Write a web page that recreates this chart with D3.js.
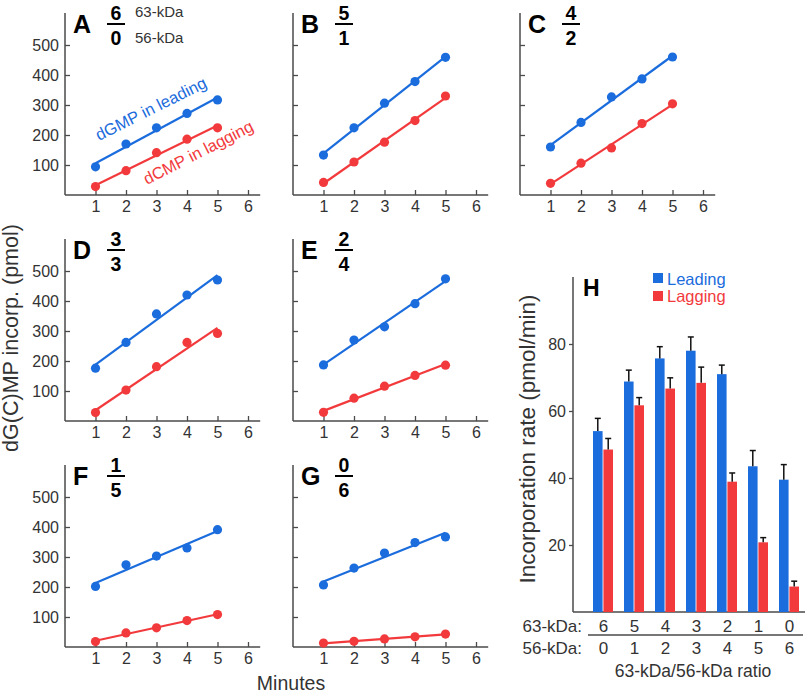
<!DOCTYPE html>
<html><head><meta charset="utf-8">
<script src="https://cdn.jsdelivr.net/npm/d3@7"></script>
<style>
body{margin:0;background:#fff;}
text{font-family:"Liberation Sans",Arial,Helvetica,sans-serif;}
</style>
</head><body>
<svg id="chart" width="805" height="693"></svg>
<script>
// ---------- data ----------
const minutes = [1, 2, 3, 4, 5];
const panelLetters = ["A", "B", "C", "D", "E", "F", "G"];
const ratio63 = [6, 5, 4, 3, 2, 1, 0];
const ratio56 = [0, 1, 2, 3, 4, 5, 6];

const leadingA = [94, 170, 224, 272, 317];
const laggingA = [28, 81, 141, 186, 224];
const leadingB = [133, 224, 306, 378, 459];
const laggingB = [42, 110, 176, 248, 330];
const leadingC = [160, 242, 327, 387, 460];
const laggingC = [39, 106, 157, 238, 304];
const leadingD = [176, 262, 357, 420, 470];
const laggingD = [28, 103, 181, 262, 292];
const leadingE = [187, 270, 314, 391, 474];
const laggingE = [29, 76, 116, 152, 186];
const leadingF = [202, 274, 303, 330, 391];
const laggingF = [18, 47, 64, 88, 108];
const leadingG = [207, 263, 313, 348, 367];
const laggingG = [13, 19, 27, 34, 43];

const yTicks = [100, 200, 300, 400, 500];
const xTicks = [1, 2, 3, 4, 5, 6];

const leadingRate = [54, 68.8, 75.7, 78, 71, 43.5, 39.5];
const leadingSD   = [3.8, 3.4, 3.5, 4.1, 2.7, 4.7, 4.5];
const laggingRate = [48.5, 61.7, 66.7, 68.4, 38.9, 20.8, 7.6];
const laggingSD   = [3.3, 2.3, 3.2, 4.7, 2.6, 1.4, 1.6];
const rateTicks = [20, 40, 60, 80];

const leadingSeries = [leadingA, leadingB, leadingC, leadingD, leadingE, leadingF, leadingG];
const laggingSeries = [laggingA, laggingB, laggingC, laggingD, laggingE, laggingF, laggingG];

// ---------- style ----------
const BLUE = "#1b6cdc";
const RED = "#f23a3d";
const AXIS = "#4a4a4a";
const TXT = "#333";
const FONT = '"Liberation Sans",Arial,sans-serif';

const svg = d3.select("#chart");

// layout of small panels
const colX = [65, 293, 520];
const rowY = [195, 421, 647];
const panelCol = [0, 1, 2, 0, 1, 0, 1];
const panelRow = [0, 0, 0, 1, 1, 2, 2];

function regress(xs, ys) {
  const n = xs.length;
  const mx = d3.mean(xs), my = d3.mean(ys);
  let sxy = 0, sxx = 0;
  for (let i = 0; i < n; i++) { sxy += (xs[i] - mx) * (ys[i] - my); sxx += (xs[i] - mx) ** 2; }
  const b = sxy / sxx;
  return x => my + b * (x - mx);
}

panelLetters.forEach((letter, i) => {
  const ox = colX[panelCol[i]], ay = rowY[panelRow[i]];
  const x = d3.scaleLinear().domain([0, 6]).range([ox, ox + 183]);
  const y = d3.scaleLinear().domain([0, 600]).range([ay, ay - 180]);
  const g = svg.append("g");

  // axes
  const yAxis = d3.axisLeft(y).tickValues(yTicks).tickFormat(d3.format("d"))
    .tickSizeInner(-5).tickSizeOuter(0).tickPadding(6);
  const ya = g.append("g").attr("transform", `translate(${ox},0)`).call(yAxis);
  ya.select(".domain").remove();
  ya.selectAll(".tick line").attr("stroke", AXIS).attr("stroke-width", 1.3);
  ya.selectAll(".tick text").attr("font-size", 16).attr("fill", TXT).style("font-family", FONT);
  if (panelCol[i] !== 0) ya.selectAll(".tick text").remove();

  const xAxis = d3.axisBottom(x).tickValues(xTicks).tickFormat(d3.format("d"))
    .tickSizeInner(-5).tickSizeOuter(0).tickPadding(6);
  const xa = g.append("g").attr("transform", `translate(0,${ay})`).call(xAxis);
  xa.select(".domain").remove();
  xa.selectAll(".tick line").attr("stroke", AXIS).attr("stroke-width", 1.3);
  xa.selectAll(".tick text").attr("font-size", 16).attr("fill", TXT).style("font-family", FONT);

  g.append("line").attr("x1", ox).attr("x2", ox).attr("y1", ay).attr("y2", y(607))
    .attr("stroke", AXIS).attr("stroke-width", 1.5);
  g.append("line").attr("x1", ox).attr("x2", x(6.4)).attr("y1", ay).attr("y2", ay)
    .attr("stroke", AXIS).attr("stroke-width", 1.5);

  // series
  [[leadingSeries[i], BLUE], [laggingSeries[i], RED]].forEach(([vals, col]) => {
    const f = regress(minutes, vals);
    g.append("line")
      .attr("x1", x(minutes[0])).attr("y1", y(f(minutes[0])))
      .attr("x2", x(minutes[minutes.length - 1])).attr("y2", y(f(minutes[minutes.length - 1])))
      .attr("stroke", col).attr("stroke-width", 2.2);
    g.selectAll(null).data(vals).enter().append("circle")
      .attr("cx", (d, j) => x(minutes[j])).attr("cy", d => y(d))
      .attr("r", 4.6).attr("fill", col);
  });

  // panel label & ratio fraction
  g.append("text").attr("x", ox + 8).attr("y", ay - 162)
    .attr("font-size", 25).attr("font-weight", "bold").attr("fill", "#000").text(letter);
  const fx = ox + 51;
  g.append("text").attr("x", fx).attr("y", ay - 175).attr("text-anchor", "middle")
    .attr("font-size", 19.5).attr("font-weight", "bold").attr("fill", "#000").text(ratio63[i]);
  g.append("line").attr("x1", fx - 9).attr("x2", fx + 9).attr("y1", ay - 171).attr("y2", ay - 171)
    .attr("stroke", "#000").attr("stroke-width", 2);
  g.append("text").attr("x", fx).attr("y", ay - 150).attr("text-anchor", "middle")
    .attr("font-size", 19.5).attr("font-weight", "bold").attr("fill", "#000").text(ratio56[i]);

  if (i === 0) {
    g.append("text").attr("x", ox + 70).attr("y", ay - 178)
      .attr("font-size", 15).attr("fill", TXT).text("63-kDa");
    g.append("text").attr("x", ox + 70).attr("y", ay - 152)
      .attr("font-size", 15).attr("fill", TXT).text("56-kDa");
    g.append("text").attr("transform", `translate(99,141) rotate(-26.5)`)
      .attr("font-size", 16.5).attr("fill", BLUE).text("dGMP in leading");
    g.append("text").attr("transform", `translate(147,185) rotate(-27)`)
      .attr("font-size", 16.5).attr("fill", RED).text("dCMP in lagging");
  }
});

// shared axis titles
svg.append("text").attr("transform", "translate(18,338) rotate(-90)")
  .attr("text-anchor", "middle").attr("font-size", 21.5).attr("fill", TXT)
  .text("dG(C)MP incorp. (pmol)");
svg.append("text").attr("x", 291).attr("y", 690).attr("text-anchor", "middle")
  .attr("font-size", 19.5).attr("fill", TXT).text("Minutes");

// ---------- panel H ----------
const hx = d3.scaleBand().domain(d3.range(ratio63.length)).range([588, 805]);
const hsub = d3.scaleBand().domain(["leading", "lagging"]).range([-10.5, 9.5]).paddingInner(0.08);
const hy = d3.scaleLinear().domain([0, 100]).range([612, 277]);
const H = svg.append("g");

const hyAxis = d3.axisLeft(hy).tickValues(rateTicks).tickSizeInner(4).tickSizeOuter(0).tickPadding(3);
const hya = H.append("g").attr("transform", "translate(573,0)").call(hyAxis);
hya.select(".domain").remove();
hya.selectAll(".tick line").attr("stroke", AXIS).attr("stroke-width", 1.3);
hya.selectAll(".tick text").attr("font-size", 16).attr("fill", TXT).style("font-family", FONT);
H.append("line").attr("x1", 573).attr("x2", 573).attr("y1", 612).attr("y2", hy(100))
  .attr("stroke", AXIS).attr("stroke-width", 1.5);
H.append("line").attr("x1", 573).attr("x2", 805).attr("y1", 612).attr("y2", 612)
  .attr("stroke", AXIS).attr("stroke-width", 1.5);

const groups = [["leading", leadingRate, leadingSD, BLUE], ["lagging", laggingRate, laggingSD, RED]];
groups.forEach(([key, vals, sds, col]) => {
  const c = i => hx(i) + hx.bandwidth() / 2 + hsub(key);
  H.selectAll(null).data(vals).enter().append("rect")
    .attr("x", (d, i) => c(i)).attr("width", hsub.bandwidth())
    .attr("y", d => hy(d)).attr("height", d => hy(0) - hy(d))
    .attr("fill", col);
  const mid = i => c(i) + hsub.bandwidth() / 2;
  H.selectAll(null).data(vals).enter().append("line")
    .attr("x1", (d, i) => mid(i)).attr("x2", (d, i) => mid(i))
    .attr("y1", d => hy(d)).attr("y2", (d, i) => hy(d + sds[i]))
    .attr("stroke", "#111").attr("stroke-width", 1.5);
  H.selectAll(null).data(vals).enter().append("line")
    .attr("x1", (d, i) => mid(i) - 3).attr("x2", (d, i) => mid(i) + 3)
    .attr("y1", (d, i) => hy(d + sds[i])).attr("y2", (d, i) => hy(d + sds[i]))
    .attr("stroke", "#111").attr("stroke-width", 1.5);
});

H.append("text").attr("x", 583).attr("y", 296).attr("font-size", 23).attr("font-weight", "bold")
  .attr("fill", "#000").text("H");

// legend
H.append("rect").attr("x", 653).attr("y", 273).attr("width", 10).attr("height", 10).attr("fill", BLUE);
H.append("text").attr("x", 667).attr("y", 285).attr("font-size", 16.5).attr("fill", BLUE).text("Leading");
H.append("rect").attr("x", 653).attr("y", 291).attr("width", 10).attr("height", 10).attr("fill", RED);
H.append("text").attr("x", 667).attr("y", 302).attr("font-size", 16.5).attr("fill", RED).text("Lagging");

// y title
H.append("text").attr("transform", "translate(535,439) rotate(-90)")
  .attr("text-anchor", "middle").attr("font-size", 22.5).attr("fill", TXT)
  .text("Incorporation rate (pmol/min)");

// ratio table
H.append("text").attr("x", 582).attr("y", 632).attr("text-anchor", "end").attr("font-size", 17)
  .attr("fill", TXT).text("63-kDa:");
H.append("text").attr("x", 582).attr("y", 654).attr("text-anchor", "end").attr("font-size", 17)
  .attr("fill", TXT).text("56-kDa:");
H.selectAll(null).data(ratio63).enter().append("text")
  .attr("x", (d, i) => hx(i) + hx.bandwidth() / 2).attr("y", 632).attr("text-anchor", "middle")
  .attr("font-size", 17).attr("fill", TXT).text(d => d);
H.selectAll(null).data(ratio56).enter().append("text")
  .attr("x", (d, i) => hx(i) + hx.bandwidth() / 2).attr("y", 654).attr("text-anchor", "middle")
  .attr("font-size", 17).attr("fill", TXT).text(d => d);
H.append("line").attr("x1", 588).attr("x2", 803).attr("y1", 635).attr("y2", 635)
  .attr("stroke", AXIS).attr("stroke-width", 1.5);
H.append("text").attr("x", 693).attr("y", 677).attr("text-anchor", "middle").attr("font-size", 17.5)
  .attr("fill", TXT).text("63-kDa/56-kDa ratio");
</script>
</body></html>
